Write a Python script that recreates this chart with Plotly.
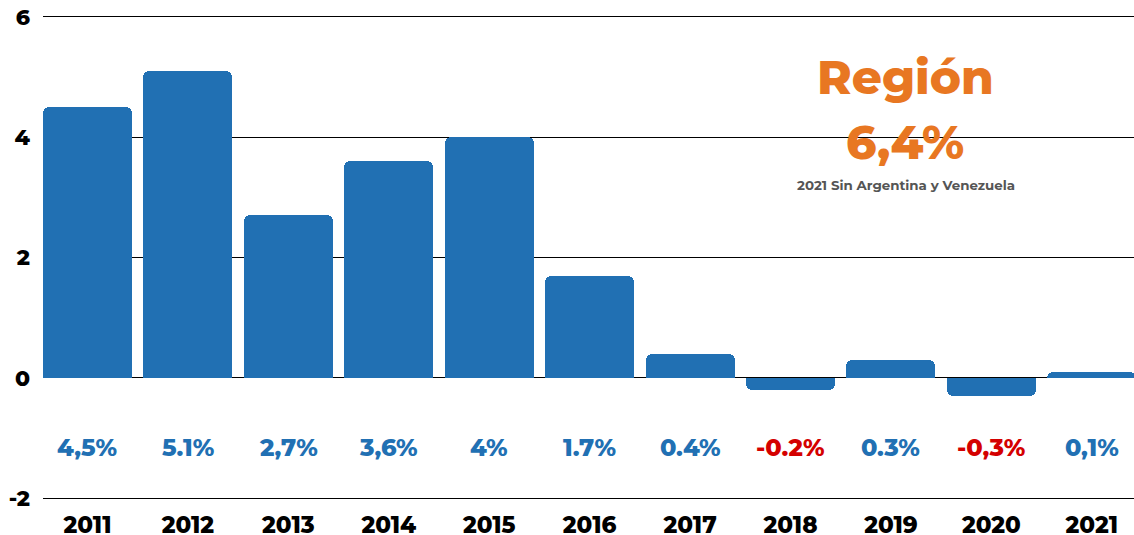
import plotly.graph_objects as go

years = ["2011", "2012", "2013", "2014", "2015", "2016", "2017", "2018", "2019", "2020", "2021"]
values = [4.5, 5.1, 2.7, 3.6, 4.0, 1.7, 0.4, -0.2, 0.3, -0.3, 0.1]
labels = ["4,5%", "5.1%", "2,7%", "3,6%", "4%", "1.7%", "0.4%", "-0.2%", "0.3%", "-0,3%", "0,1%"]
y_ticks = [-2, 0, 2, 4, 6]
y_ticktext = ["-2", "0", "2", "4", "6"]

BLUE = "#2170B3"
RED = "#D40000"
ORANGE = "#E87722"
FONT = "Montserrat, 'DejaVu Sans', sans-serif"

x = list(range(len(years)))

W, H = 1134, 535
L, R, T, B = 43, 0, 15, 35
pw, ph = W - L - R, H - T - B

def px_x(v):
    return (v - L) / pw

def px_y(v):
    return 1 - (v - T) / ph

fig = go.Figure()
fig.add_trace(go.Bar(
    x=x, y=values, width=0.886,
    marker=dict(color=BLUE, cornerradius=6, line=dict(width=0)),
    hoverinfo="skip",
))

for xi, lab, v in zip(x, labels, values):
    fig.add_annotation(
        x=xi, y=-1.15, text=lab, showarrow=False,
        font=dict(family=FONT, size=24, color=RED if v < 0 else BLUE, weight=800),
        xanchor="center", yanchor="middle",
    )

fig.add_annotation(x=px_x(905), y=px_y(77), xref="paper", yref="paper", text="Región", showarrow=False,
                   xanchor="center", yanchor="middle",
                   font=dict(family=FONT, size=47, color=ORANGE, weight=800))
fig.add_annotation(x=px_x(905), y=px_y(143), xref="paper", yref="paper", text="6,4%", showarrow=False,
                   xanchor="center", yanchor="middle",
                   font=dict(family=FONT, size=47, color=ORANGE, weight=800))
fig.add_annotation(x=px_x(906), y=px_y(185), xref="paper", yref="paper", text="2021 Sin Argentina y Venezuela", showarrow=False,
                   xanchor="center", yanchor="middle",
                   font=dict(family=FONT, size=13.4, color="#555555", weight=700))

fig.update_layout(
    width=W, height=H,
    margin=dict(l=L, r=R, t=T, b=B, autoexpand=False),
    plot_bgcolor="white", paper_bgcolor="white",
    showlegend=False,
    bargap=0,
    xaxis=dict(
        range=[-0.443, 10.42], tickmode="array", tickvals=x, ticktext=years,
        showgrid=False, zeroline=False, showline=False, ticks="",
        tickfont=dict(family=FONT, size=23, color="black", weight=800),
        ticklabelstandoff=9, automargin=False,
    ),
    yaxis=dict(
        range=[-2.03, 6.03], tickmode="array", tickvals=y_ticks, ticktext=y_ticktext,
        showgrid=True, gridcolor="black", gridwidth=1,
        zeroline=True, zerolinecolor="black", zerolinewidth=1,
        showline=False, ticks="",
        tickfont=dict(family=FONT, size=22, color="black", weight=800),
        ticklabelstandoff=12, automargin=False,
    ),
)

fig.write_html("out.html", config={"displayModeBar": False},
               post_script="document.body.style.margin='0px';document.body.style.overflow='hidden';")
